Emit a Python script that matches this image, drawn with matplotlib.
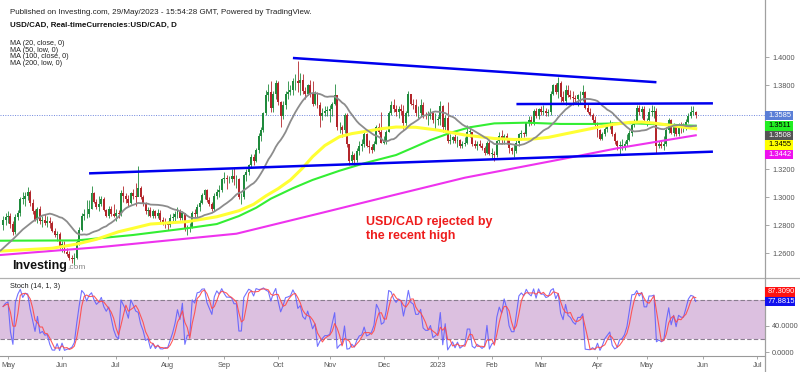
import matplotlib.pyplot as plt
from matplotlib.patches import Rectangle
from matplotlib.lines import Line2D
from matplotlib.ticker import FormatStrFormatter
import numpy as np
import pandas as pd

plt.rcParams['font.family'] = ['Liberation Sans', 'DejaVu Sans']

# daily USD/CAD candles, 28 Apr 2022 .. 29 May 2023 (open = previous close)
first_open = 1.2800
closes = [
    1.2840, 1.2860,
    # May 2022
    1.2870, 1.2810, 1.2750, 1.2860, 1.2890, 1.2990, 1.2990, 1.3010, 1.3040, 1.2960, 1.2900,
    1.2840, 1.2920, 1.2830, 1.2840, 1.2820, 1.2830, 1.2815, 1.2760, 1.2730, 1.2740, 1.2640,
    # Jun
    1.2670, 1.2610, 1.2595, 1.2570, 1.2560, 1.2570, 1.2680, 1.2770, 1.2870, 1.2880, 1.2880,
    1.2920, 1.3030, 1.2970, 1.2930, 1.2950, 1.2990, 1.2910, 1.2870, 1.2920, 1.2880, 1.2870,
    # Jul
    1.2890, 1.2880, 1.3030, 1.3010, 1.2990, 1.2960, 1.3030, 1.3010, 1.3000, 1.3070, 1.3000,
    1.2960, 1.2900, 1.2910, 1.2870, 1.2900, 1.2870, 1.2890, 1.2840, 1.2820, 1.2810,
    # Aug
    1.2800, 1.2850, 1.2860, 1.2880, 1.2900, 1.2850, 1.2890, 1.2780, 1.2780, 1.2780, 1.2890,
    1.2880, 1.2930, 1.2960, 1.3020, 1.3050, 1.2980, 1.2950, 1.2920, 1.3010, 1.3040, 1.3050, 1.3130,
    # Sep
    1.3140, 1.3130, 1.3130, 1.3150, 1.3130, 1.3130, 1.3000, 1.3000, 1.3160, 1.3180, 1.3230,
    1.3290, 1.3260, 1.3340, 1.3440, 1.3480, 1.3600, 1.3730, 1.3750, 1.3640, 1.3740, 1.3820,
    # Oct
    1.3680, 1.3580, 1.3660, 1.3740, 1.3750, 1.3770, 1.3830, 1.3830, 1.3820, 1.3840, 1.3760,
    1.3740, 1.3800, 1.3740, 1.3670, 1.3740, 1.3660, 1.3580, 1.3600, 1.3620, 1.3620,
    # Nov
    1.3630, 1.3670, 1.3730, 1.3500, 1.3500, 1.3480, 1.3590, 1.3380, 1.3260, 1.3300, 1.3270,
    1.3330, 1.3370, 1.3380, 1.3450, 1.3370, 1.3360, 1.3340, 1.3380, 1.3500, 1.3470, 1.3390,
    # Dec
    1.3400, 1.3470, 1.3600, 1.3660, 1.3630, 1.3610, 1.3630, 1.3620, 1.3530, 1.3600, 1.3740,
    1.3670, 1.3660, 1.3600, 1.3600, 1.3660, 1.3590, 1.3580, 1.3580, 1.3600, 1.3550, 1.3550,
    # Jan 2023
    1.3560, 1.3650, 1.3500, 1.3570, 1.3400, 1.3410, 1.3430, 1.3400, 1.3410, 1.3370, 1.3380,
    1.3390, 1.3470, 1.3470, 1.3380, 1.3370, 1.3380, 1.3370, 1.3350, 1.3320, 1.3390, 1.3310,
    # Feb
    1.3310, 1.3300, 1.3400, 1.3440, 1.3410, 1.3440, 1.3410, 1.3350, 1.3330, 1.3330,
    1.3390, 1.3450, 1.3460, 1.3450, 1.3530, 1.3550, 1.3540, 1.3620, 1.3580, 1.3630,
    # Mar
    1.3610, 1.3620, 1.3600, 1.3610, 1.3740, 1.3800, 1.3750, 1.3820, 1.3720, 1.3690, 1.3770, 1.3730,
    1.3720, 1.3710, 1.3700, 1.3730, 1.3730, 1.3750, 1.3640, 1.3610, 1.3590, 1.3550, 1.3520,
    # Apr
    1.3480, 1.3420, 1.3450, 1.3490, 1.3510, 1.3530, 1.3450, 1.3400, 1.3370, 1.3370,
    1.3370, 1.3380, 1.3410, 1.3460, 1.3520, 1.3530, 1.3640, 1.3610, 1.3630, 1.3550,
    # May
    1.3550, 1.3610, 1.3610, 1.3620, 1.3370, 1.3380, 1.3370, 1.3380, 1.3480, 1.3550, 1.3460,
    1.3510, 1.3450, 1.3510, 1.3500, 1.3500, 1.3540, 1.3580, 1.3610, 1.3610, 1.3585,
]
highs = [
    1.2870, 1.2890,
    1.2900, 1.2885, 1.2830, 1.2880, 1.2910, 1.3000, 1.3040, 1.3040, 1.3077, 1.3050, 1.2990,
    1.2920, 1.2930, 1.2940, 1.2870, 1.2880, 1.2870, 1.2860, 1.2830, 1.2780, 1.2760, 1.2750,
    1.2690, 1.2690, 1.2640, 1.2620, 1.2590, 1.2600, 1.2700, 1.2790, 1.2890, 1.2920, 1.2980,
    1.2980, 1.3080, 1.3040, 1.2990, 1.3010, 1.3010, 1.3000, 1.2920, 1.2940, 1.2940, 1.2950,
    1.2920, 1.2910, 1.3050, 1.3080, 1.3030, 1.3020, 1.3040, 1.3060, 1.3100, 1.3224, 1.3080,
    1.3020, 1.2970, 1.2930, 1.2930, 1.2920, 1.2910, 1.2920, 1.2910, 1.2860, 1.2850,
    1.2830, 1.2880, 1.2890, 1.2900, 1.2930, 1.2920, 1.2900, 1.2890, 1.2800, 1.2820, 1.2900,
    1.2920, 1.2950, 1.2980, 1.3030, 1.3060, 1.3060, 1.3000, 1.2970, 1.3030, 1.3060, 1.3090, 1.3140,
    1.3180, 1.3160, 1.3150, 1.3200, 1.3210, 1.3160, 1.3140, 1.3030, 1.3170, 1.3200, 1.3240,
    1.3310, 1.3310, 1.3350, 1.3460, 1.3500, 1.3610, 1.3770, 1.3810, 1.3830, 1.3760, 1.3840,
    1.3830, 1.3690, 1.3690, 1.3760, 1.3830, 1.3800, 1.3850, 1.3880, 1.3977, 1.3890, 1.3880,
    1.3790, 1.3810, 1.3840, 1.3830, 1.3760, 1.3750, 1.3680, 1.3640, 1.3650, 1.3650,
    1.3660, 1.3680, 1.3810, 1.3730, 1.3540, 1.3520, 1.3600, 1.3600, 1.3380, 1.3330, 1.3320,
    1.3350, 1.3400, 1.3420, 1.3470, 1.3460, 1.3410, 1.3380, 1.3400, 1.3520, 1.3530, 1.3610,
    1.3440, 1.3480, 1.3620, 1.3690, 1.3700, 1.3660, 1.3650, 1.3670, 1.3660, 1.3620, 1.3760,
    1.3740, 1.3700, 1.3700, 1.3650, 1.3700, 1.3680, 1.3610, 1.3620, 1.3640, 1.3610, 1.3600,
    1.3580, 1.3690, 1.3660, 1.3590, 1.3680, 1.3450, 1.3440, 1.3450, 1.3440, 1.3420, 1.3400,
    1.3430, 1.3520, 1.3510, 1.3470, 1.3410, 1.3400, 1.3410, 1.3390, 1.3370, 1.3400, 1.3420,
    1.3350, 1.3330, 1.3410, 1.3470, 1.3480, 1.3450, 1.3460, 1.3420, 1.3360, 1.3380,
    1.3410, 1.3460, 1.3480, 1.3470, 1.3540, 1.3580, 1.3580, 1.3630, 1.3640, 1.3640,
    1.3650, 1.3660, 1.3640, 1.3630, 1.3760, 1.3810, 1.3820, 1.3862, 1.3830, 1.3760, 1.3800, 1.3800,
    1.3770, 1.3760, 1.3730, 1.3740, 1.3760, 1.3800, 1.3760, 1.3670, 1.3640, 1.3600, 1.3580,
    1.3540, 1.3490, 1.3470, 1.3500, 1.3520, 1.3550, 1.3540, 1.3470, 1.3410, 1.3400,
    1.3420, 1.3400, 1.3450, 1.3480, 1.3530, 1.3560, 1.3660, 1.3660, 1.3650, 1.3650,
    1.3570, 1.3640, 1.3660, 1.3650, 1.3640, 1.3400, 1.3410, 1.3440, 1.3500, 1.3570, 1.3560,
    1.3530, 1.3520, 1.3530, 1.3540, 1.3530, 1.3560, 1.3600, 1.3650, 1.3655, 1.3620,
]
lows = [
    1.2770, 1.2800,
    1.2820, 1.2780, 1.2730, 1.2740, 1.2840, 1.2870, 1.2950, 1.2940, 1.2980, 1.2940, 1.2880,
    1.2830, 1.2820, 1.2810, 1.2790, 1.2800, 1.2790, 1.2780, 1.2750, 1.2720, 1.2690, 1.2630,
    1.2610, 1.2600, 1.2580, 1.2550, 1.2530, 1.2518, 1.2560, 1.2660, 1.2760, 1.2840, 1.2850,
    1.2860, 1.2920, 1.2960, 1.2920, 1.2900, 1.2940, 1.2900, 1.2860, 1.2850, 1.2870, 1.2860,
    1.2830, 1.2850, 1.2870, 1.2970, 1.2960, 1.2940, 1.2950, 1.2990, 1.2940, 1.3020, 1.2990,
    1.2940, 1.2880, 1.2870, 1.2860, 1.2850, 1.2850, 1.2850, 1.2820, 1.2800, 1.2780,
    1.2770, 1.2790, 1.2830, 1.2820, 1.2850, 1.2840, 1.2840, 1.2760, 1.2728, 1.2750, 1.2780,
    1.2860, 1.2860, 1.2900, 1.2950, 1.2990, 1.2970, 1.2940, 1.2900, 1.2900, 1.2990, 1.3000, 1.3040,
    1.3100, 1.3060, 1.3100, 1.3110, 1.3090, 1.3070, 1.2990, 1.2950, 1.2990, 1.3120, 1.3160,
    1.3210, 1.3230, 1.3250, 1.3320, 1.3400, 1.3470, 1.3590, 1.3690, 1.3610, 1.3610, 1.3700,
    1.3660, 1.3500, 1.3560, 1.3630, 1.3700, 1.3730, 1.3730, 1.3770, 1.3750, 1.3730, 1.3740,
    1.3700, 1.3730, 1.3720, 1.3650, 1.3660, 1.3640, 1.3500, 1.3550, 1.3580, 1.3580,
    1.3540, 1.3580, 1.3660, 1.3480, 1.3460, 1.3430, 1.3460, 1.3360, 1.3230, 1.3240, 1.3226,
    1.3250, 1.3300, 1.3330, 1.3360, 1.3360, 1.3320, 1.3320, 1.3330, 1.3380, 1.3450, 1.3390,
    1.3380, 1.3380, 1.3470, 1.3590, 1.3610, 1.3580, 1.3570, 1.3590, 1.3490, 1.3510, 1.3580,
    1.3660, 1.3630, 1.3580, 1.3570, 1.3580, 1.3570, 1.3560, 1.3520, 1.3560, 1.3530, 1.3480,
    1.3520, 1.3520, 1.3470, 1.3480, 1.3390, 1.3380, 1.3390, 1.3390, 1.3360, 1.3350, 1.3350,
    1.3370, 1.3380, 1.3430, 1.3370, 1.3350, 1.3340, 1.3360, 1.3340, 1.3300, 1.3310, 1.3300,
    1.3280, 1.3262, 1.3290, 1.3390, 1.3380, 1.3380, 1.3380, 1.3320, 1.3310, 1.3290,
    1.3320, 1.3370, 1.3410, 1.3430, 1.3440, 1.3510, 1.3520, 1.3520, 1.3570, 1.3560,
    1.3590, 1.3590, 1.3580, 1.3580, 1.3590, 1.3730, 1.3740, 1.3710, 1.3680, 1.3680, 1.3660, 1.3720,
    1.3700, 1.3660, 1.3670, 1.3650, 1.3670, 1.3690, 1.3630, 1.3600, 1.3580, 1.3530, 1.3510,
    1.3430, 1.3410, 1.3410, 1.3440, 1.3470, 1.3490, 1.3440, 1.3380, 1.3340, 1.3300,
    1.3340, 1.3340, 1.3370, 1.3400, 1.3440, 1.3500, 1.3530, 1.3590, 1.3570, 1.3530,
    1.3510, 1.3540, 1.3580, 1.3570, 1.3316, 1.3350, 1.3350, 1.3340, 1.3370, 1.3460, 1.3450,
    1.3440, 1.3440, 1.3440, 1.3460, 1.3470, 1.3480, 1.3530, 1.3570, 1.3590, 1.3570,
]

# MA(20) before enough candles exist (bar index, value)
ma20_head_x = [-1, 4, 8, 12, 16]
ma20_head_y = [1.2620, 1.2700, 1.2770, 1.2826, 1.2870]
# slower moving averages (bar index, value)
ma50_x = [-1, 20, 30, 38, 47, 53, 60, 75, 87, 96, 102, 107, 112, 117, 122, 126, 131, 137,
          142, 147, 154, 160, 168, 177, 188, 200, 208, 215, 222, 228, 235, 242, 248, 255,
          260, 265, 270, 275, 282]
ma50_y = [1.2616, 1.2636, 1.2666, 1.2700, 1.2754, 1.2779, 1.2809, 1.2826, 1.2861, 1.2904,
          1.2950, 1.3010, 1.3062, 1.3124, 1.3210, 1.3290, 1.3370, 1.3433, 1.3455, 1.3469,
          1.3490, 1.3502, 1.3500, 1.3480, 1.3445, 1.3420, 1.3413, 1.3415, 1.3428, 1.3450,
          1.3475, 1.3500, 1.3520, 1.3535, 1.3538, 1.3530, 1.3518, 1.3505, 1.3490]
ma100_x = [-1, 30, 53, 64, 75, 87, 96, 103, 109, 118, 126, 137, 147, 160, 167, 174, 182,
           190, 200, 213, 227, 240, 254, 268, 282]
ma100_y = [1.2690, 1.2692, 1.2731, 1.2755, 1.2779, 1.2809, 1.2866, 1.2925, 1.2990, 1.3065,
           1.3124, 1.3190, 1.3243, 1.3302, 1.3355, 1.3409, 1.3460, 1.3500, 1.3528, 1.3533,
           1.3524, 1.3524, 1.3530, 1.3521, 1.3511]
ma200_x = [-1, 40, 95, 130, 160, 188, 227, 250, 282]
ma200_y = [1.2588, 1.2645, 1.2740, 1.2890, 1.3020, 1.3140, 1.3271, 1.3350, 1.3443]

# hand-drawn trend lines
trend_start = ["2022-10-11", "2023-02-15", "2022-06-16"]
trend_start_px = [1.3995, 1.3666, 1.3171]
trend_end = ["2023-05-05", "2023-06-07", "2023-06-07"]
trend_end_px = [1.3822, 1.3671, 1.3326]

price_tags = [("1.3585", "#5b7fd6", "white"), ("1.3511", "#22ee22", "black"),
              ("1.3508", "#555555", "white"), ("1.3455", "#ffff00", "black"),
              ("1.3442", "#ee11ee", "white")]
stoch_tags = [("87.3090", "#ff1111", "white"), ("77.8815", "#1111ee", "white")]

GREEN = "#1f8a3c"
RED = "#b3262b"

dates = pd.bdate_range("2022-04-28", "2023-07-31")
n = len(closes)
x = np.arange(n)
c = np.array(closes)
o = np.r_[first_open, c[:-1]]
h = np.array(highs)
l = np.array(lows)
ma20 = pd.Series(closes).rolling(20).mean().to_numpy()

W, H = 800, 372
fig = plt.figure(figsize=(8, 3.72), dpi=100)
fig.patch.set_facecolor("white")
XL = (-1.26, 310.2)

ax = fig.add_axes([0, 1 - 278 / H, 765 / W, 278 / H])
ax.set_xlim(*XL)
ax.set_ylim(1.24236, 1.44093)

col = np.where(c >= o, GREEN, RED)
ax.vlines(x, l, h, colors=col, lw=0.6, zorder=2)
ax.bar(x, np.maximum(np.abs(c - o), 0.0003), bottom=np.minimum(o, c), width=0.8,
       color=col, lw=0, zorder=2)

ax.plot(ma200_x, ma200_y, color="#ee33ee", lw=1.5, zorder=3)
ax.plot(ma100_x, ma100_y, color="#33ee33", lw=1.5, zorder=3)
ax.plot(ma50_x, ma50_y, color="#ffff33", lw=2.2, zorder=3)
ax.plot(np.r_[ma20_head_x, x[19:]], np.r_[ma20_head_y, ma20[19:]], color="#8c8c8c",
        lw=1.3, zorder=3)

for s, sp, e, ep in zip(trend_start, trend_start_px, trend_end, trend_end_px):
    ax.plot([dates.get_loc(pd.Timestamp(s)), dates.get_loc(pd.Timestamp(e))], [sp, ep],
            color="#0000ee", lw=1.8, zorder=4, solid_capstyle="butt")

ax.axhline(closes[-1], color="#6f86dd", lw=0.7, ls=(0, (1, 1.5)), zorder=1)

ax.yaxis.tick_right()
ax.set_yticks([1.26, 1.28, 1.30, 1.32, 1.38, 1.40])
ax.yaxis.set_major_formatter(FormatStrFormatter("%.4f"))
ax.tick_params(axis="y", direction="out", length=3, width=0.6, colors="#999999",
               labelcolor="#555555", labelsize=5.3, pad=2)
ax.set_xticks([])
for side in ["top", "left", "bottom", "right"]:
    ax.spines[side].set_visible(False)

# stochastic panel
sc = pd.Series(closes)
hh = pd.Series(highs).rolling(14, min_periods=1).max()
ll = pd.Series(lows).rolling(14, min_periods=1).min()
k = 100 * (sc - ll) / (hh - ll)
d = k.rolling(3, min_periods=1).mean()

ax2 = fig.add_axes([0, 1 - 356 / H, 765 / W, 78 / H])
ax2.set_xlim(*XL)
ax2.set_ylim(-6.15, 113.8)
ax2.axhspan(20, 80, color="#dcc0e0", lw=0, zorder=0)
for lv in (20, 80):
    ax2.axhline(lv, color="#8a7d8f", lw=0.8, ls=(0, (4, 2)), zorder=1)
ax2.plot(x, k, color="#5a5aff", lw=0.8, alpha=0.85, zorder=2)
ax2.plot(x, d, color="#ff4a4a", lw=0.8, alpha=0.9, zorder=2)
ax2.yaxis.tick_right()
ax2.set_yticks([0, 40])
ax2.yaxis.set_major_formatter(FormatStrFormatter("%.4f"))
ax2.tick_params(axis="y", direction="out", length=3, width=0.6, colors="#999999",
                labelcolor="#555555", labelsize=5.3, pad=2)

mt, ml = [], []
for i in range(1, len(dates)):
    if dates[i].month != dates[i - 1].month and i <= XL[1]:
        mt.append(i)
        ml.append("2023" if dates[i].month == 1 else dates[i].strftime("%b"))
ax2.set_xticks(mt)
ax2.set_xticklabels(ml)
ax2.tick_params(axis="x", direction="out", length=2, width=0.6, colors="#999999",
                labelcolor="#555555", labelsize=5.3, pad=2)
for side in ["top", "left", "right"]:
    ax2.spines[side].set_visible(False)
ax2.spines["bottom"].set_color("#999999")
ax2.spines["bottom"].set_linewidth(0.8)

# frame lines
fig.add_artist(Line2D([0, 1], [1 - 278 / H] * 2, color="#b0b0b0", lw=0.9))
fig.add_artist(Line2D([765 / W] * 2, [0, 1], color="#a0a0a0", lw=0.9))


def draw_tags(axis, tags, push_down, width):
    hgt = 9.6
    ys = [axis.transData.transform((0, float(t[0])))[1] for t in tags]
    order = sorted(range(len(tags)), key=lambda i: -ys[i] if push_down else ys[i])
    placed, prev = {}, None
    for i in order:
        y = ys[i]
        if prev is not None:
            y = min(y, prev - hgt) if push_down else max(y, prev + hgt)
        placed[i] = y
        prev = y
    for i, (txt, face, tc) in enumerate(tags):
        y = placed[i]
        fig.add_artist(Rectangle((765 / W, (y - hgt / 2) / H), width / W, hgt / H,
                                 transform=fig.transFigure, facecolor=face, edgecolor="none",
                                 zorder=5))
        fig.text(768 / W, y / H, txt, color=tc, fontsize=5.4, va="center", ha="left",
                 zorder=6)


draw_tags(ax, price_tags, True, 28)
draw_tags(ax2, stoch_tags, False, 30)

# texts
fig.text(10 / W, 1 - 12 / H,
         "Published on Investing.com, 29/May/2023 - 15:54:28 GMT, Powered by TradingView.",
         fontsize=5.8, color="#222222", va="center")
fig.text(10 / W, 1 - 25 / H, "USD/CAD, Real-timeCurrencies:USD/CAD, D",
         fontsize=5.7, fontweight="bold", color="#111111", va="center")
for j, s in enumerate(["MA (20, close, 0)", "MA (50, low, 0)", "MA (100, close, 0)",
                       "MA (200, low, 0)"]):
    fig.text(10 / W, 1 - (43.5 + 6.7 * j) / H, s, fontsize=5.2, color="#222222", va="center")
fig.text(10 / W, 1 - 287 / H, "Stoch (14, 1, 3)", fontsize=5.3, color="#222222", va="center")

fig.text(12 / W, 1 - 269 / H, "Investing", fontsize=9, fontweight="bold", color="#111111",
         va="baseline")
fig.text(67 / W, 1 - 269 / H, ".com", fontsize=6, color="#888888", va="baseline")

fig.text(366 / W, 1 - 229 / H, "USD/CAD rejected by\nthe recent high", fontsize=9,
         fontweight="bold", color="#ee1c1c", va="center", ha="left", linespacing=1.3)

fig.savefig("out.png", dpi=100)
